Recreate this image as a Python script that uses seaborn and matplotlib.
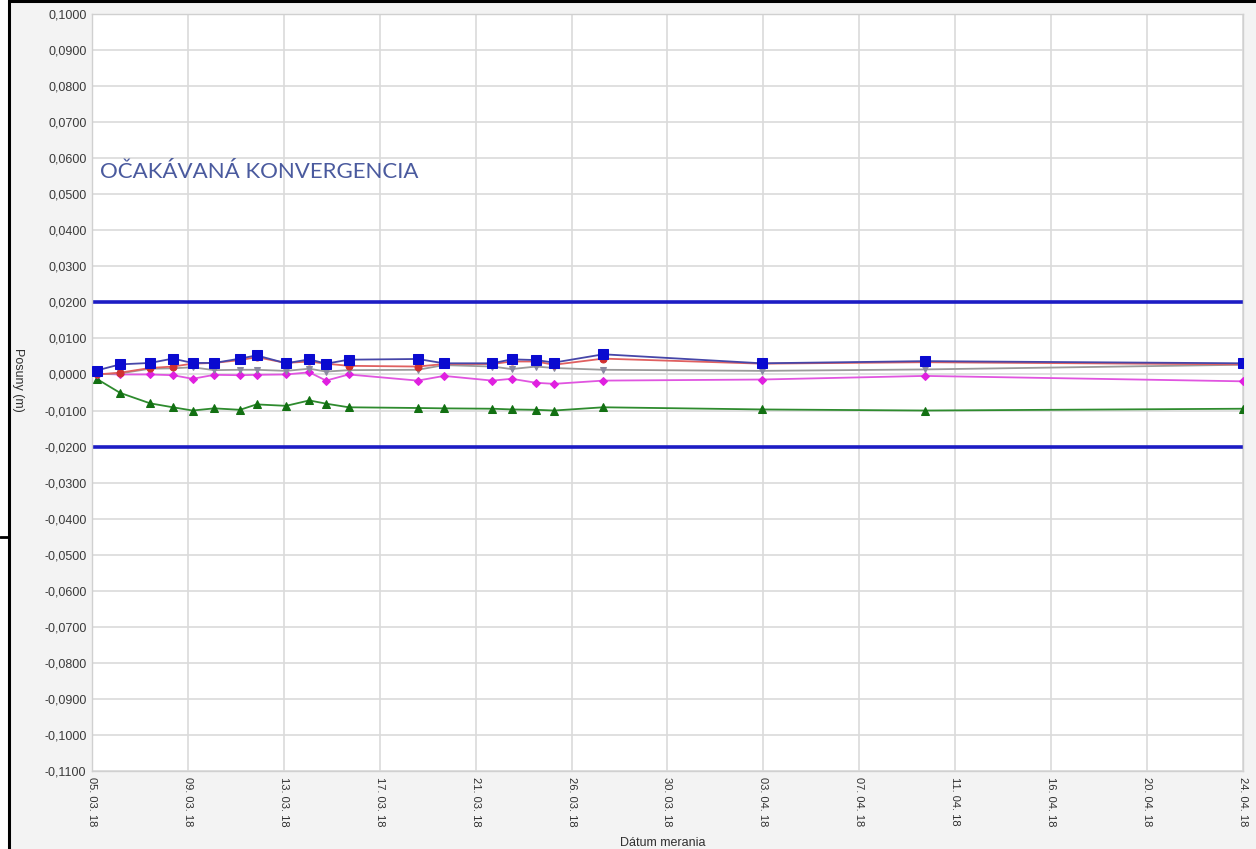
import numpy as np
import pandas as pd
import matplotlib
matplotlib.use("Agg")
import matplotlib.pyplot as plt
import matplotlib.dates as mdates
from matplotlib.lines import Line2D
from matplotlib.ticker import FuncFormatter
import seaborn as sns

# Measurement times, in days after 05.03.2018 00:00
day_offsets = [0.20, 1.22, 2.52, 3.51, 4.37, 5.31, 6.43, 7.15, 8.43, 9.44, 10.17,
               11.15, 14.15, 15.29, 17.39, 18.23, 19.29, 20.07, 22.21, 29.09, 36.19, 50.0]

# Displacements of the monitored points (m)
point_blue = [0.0011, 0.0028, 0.0032, 0.0044, 0.0032, 0.0032, 0.0044, 0.0053, 0.0031, 0.0042, 0.0030,
              0.0041, 0.0043, 0.0031, 0.0031, 0.0042, 0.0040, 0.0033, 0.0056, 0.0031, 0.0037, 0.0031]
point_red = [0.0000, 0.0005, 0.0018, 0.0022, 0.0030, 0.0032, 0.0040, 0.0048, 0.0032, 0.0036, 0.0030,
             0.0024, 0.0022, 0.0029, 0.0029, 0.0036, 0.0036, 0.0027, 0.0044, 0.0030, 0.0034, 0.0028]
point_gray = [0.0000, 0.0003, 0.0016, 0.0017, 0.0020, 0.0012, 0.0013, 0.0013, 0.0010, 0.0016, 0.0008,
              0.0012, 0.0013, 0.0026, 0.0022, 0.0015, 0.0022, 0.0018, 0.0013, 0.0010, 0.0014, 0.0027]
point_magenta = [0.0002, 0.0000, 0.0000, -0.0002, -0.0012, -0.0001, -0.0002, -0.0001, 0.0000, 0.0006, -0.0017,
                 0.0000, -0.0017, -0.0004, -0.0017, -0.0012, -0.0023, -0.0026, -0.0017, -0.0014, -0.0004, -0.0019]
point_green = [-0.0012, -0.0051, -0.0080, -0.0091, -0.0100, -0.0094, -0.0098, -0.0083, -0.0087, -0.0072, -0.0081,
               -0.0091, -0.0093, -0.0094, -0.0095, -0.0097, -0.0098, -0.0100, -0.0091, -0.0097, -0.0100, -0.0095]

# Expected convergence limits (m)
limit_values = [0.02, -0.02]

x_tick_labels = ["05. 03. 18", "09. 03. 18", "13. 03. 18", "17. 03. 18", "21. 03. 18", "26. 03. 18",
                 "30. 03. 18", "03. 04. 18", "07. 04. 18", "11. 04. 18", "16. 04. 18", "20. 04. 18",
                 "24. 04. 18"]
y_tick_values = [i / 100 for i in range(-11, 11)]

start = pd.Timestamp("2018-03-05")
end = pd.Timestamp("2018-04-24")
dates = start + pd.to_timedelta(day_offsets, unit="D")

sns.set_theme(style="whitegrid")
plt.rcParams["font.family"] = ["Liberation Sans", "DejaVu Sans"]

fig = plt.figure(figsize=(12.56, 8.49), dpi=100, facecolor="#f3f3f3")
ax = fig.add_axes([92 / 1256, 1 - 771 / 849, (1243 - 92) / 1256, (771 - 14) / 849])
ax.set_facecolor("white")

series = [
    (point_green, "#2e8b2e", "^", "#127012", 6.0, 3),
    (point_magenta, "#e055e0", "D", "#e020e0", 4.5, 4),
    (point_gray, "#9a9a9a", "v", "#8a8aa0", 5.0, 5),
    (point_red, "#e06060", "o", "#d03030", 5.0, 6),
    (point_blue, "#4646a8", "s", "#0a0ad0", 6.5, 7),
]
for vals, lc, mk, mc, ms, z in series:
    sns.lineplot(x=dates, y=vals, ax=ax, color=lc, marker=mk, markersize=ms,
                 markerfacecolor=mc, markeredgecolor=mc, linewidth=1.3,
                 errorbar=None, zorder=z)

for lim in limit_values:
    ax.axhline(lim, color="#1c1cc4", linewidth=2.6, zorder=2)

x0 = mdates.date2num(start)
x1 = mdates.date2num(end)
ax.set_xlim(x0, x1)
ax.set_ylim(-0.11, 0.10)
ax.set_xticks([x0 + k * (x1 - x0) / 12 for k in range(13)])
ax.set_xticklabels(x_tick_labels, rotation=270, fontsize=8, color="#303030")
ax.set_yticks(y_tick_values)
ax.yaxis.set_major_formatter(FuncFormatter(lambda v, p: f"{v:.4f}".replace(".", ",")))
ax.tick_params(axis="y", labelsize=9, labelcolor="#3a3a3a", length=0, pad=4)
ax.tick_params(axis="x", length=0, pad=4)
ax.grid(True, color="#dadada", linewidth=1.2)
ax.set_axisbelow(True)
for sp in ax.spines.values():
    sp.set_color("#d0d0d0")
    sp.set_linewidth(1.0)
ax.set_xlabel("")
ax.set_ylabel("")

ax.text((100 - 92) / 1151, (771 - 172) / 757, "OČAKÁVANÁ KONVERGENCIA",
        transform=ax.transAxes, fontsize=16, color="#4a5a9e", va="center", ha="left",
        family=["Lato", "DejaVu Sans"])

fig.text(18 / 1256, 1 - 380 / 849, "Posuny (m)", rotation=270, ha="center", va="center",
         fontsize=9, color="#303030")
fig.text(663 / 1256, 1 - 843 / 849, "Dátum merania", ha="center", va="center",
         fontsize=9, color="#303030")

# Page border around the figure
fig.add_artist(Line2D([9 / 1256, 9 / 1256], [0, 1], color="black", linewidth=2.2,
                      transform=fig.transFigure))
fig.add_artist(Line2D([9 / 1256, 1], [1 - 1 / 849, 1 - 1 / 849], color="black", linewidth=2.2,
                      transform=fig.transFigure))
fig.add_artist(Line2D([0, 9 / 1256], [1 - 537 / 849, 1 - 537 / 849], color="black", linewidth=2.0,
                      transform=fig.transFigure))
fig.patches.append(plt.Rectangle((0, 0), 8 / 1256, 1, transform=fig.transFigure,
                                 facecolor="white", edgecolor="none", zorder=-1))

fig.savefig("out.png", dpi=100, facecolor=fig.get_facecolor())
